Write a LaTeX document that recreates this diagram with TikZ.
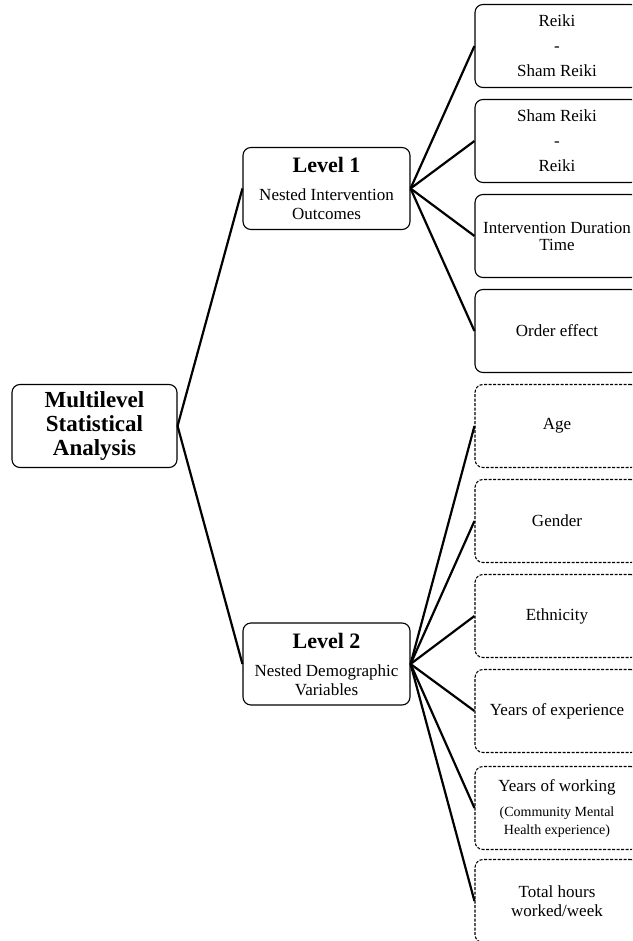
\documentclass[tikz,border=0pt]{standalone}
\usepackage{fontspec}
\setmainfont{Liberation Serif}
\usepackage{tikz}

\tikzset{
  box/.style={draw, rounded corners=8pt, line width=1.1pt, inner sep=0pt,
    align=center, font=\fontsize{17}{19}\selectfont},
  rootbox/.style={box, minimum width=165pt, minimum height=83pt,
    font=\bfseries\fontsize{23}{24}\selectfont},
  levelbox/.style={box, minimum width=167pt, minimum height=82pt},
  itembox/.style={box, minimum width=164pt, minimum height=83pt},
  varbox/.style={itembox, dash pattern=on 3pt off 1.5pt},
  branch/.style={line width=2.2pt}
}
\newcommand{\levelhead}[1]{{\bfseries\fontsize{22}{24}\selectfont #1}}

\begin{document}
\begin{tikzpicture}[x=1pt, y=-1pt]

\clip (0,0) rectangle (632,941);

% root box
\node[rootbox] (root) at (94.5,426) {Multilevel\\Statistical\\Analysis};

% level boxes
\node[levelbox] (lev1) at (326.5,188.5)
  {\levelhead{Level 1}\\[9pt]Nested Intervention\\Outcomes};
\node[levelbox] (lev2) at (326.5,664)
  {\levelhead{Level 2}\\[9pt]Nested Demographic\\Variables};

% level 1 outcomes
\node[itembox] (reiki) at (557,46) {Reiki\\[6pt]-\\[6pt]Sham Reiki};
\node[itembox] (sham) at (557,141) {Sham Reiki\\[6pt]-\\[6pt]Reiki};
\node[itembox] (dur) at (557,236) {Intervention Duration\\[-2pt]Time};
\node[itembox] (order) at (557,331) {Order effect};

% level 2 variables
\node[varbox] (age) at (557,426) {Age};
\node[varbox] (gender) at (557,521) {Gender};
\node[varbox] (ethn) at (557,616) {Ethnicity};
\node[varbox] (exper) at (557,711) {Years of experience};
\node[varbox] (work) at (557,808)
  {Years of working\\[6pt]{\fontsize{14}{16}\selectfont (Community Mental}\\[-1pt]
   {\fontsize{14}{16}\selectfont Health experience)}};
\node[varbox] (hours) at (557,901) {Total hours\\worked/week};

% branches
\draw[branch] (root.east) -- (lev1.west);
\draw[branch] (root.east) -- (lev2.west);
\foreach \n in {reiki, sham, dur, order}
  \draw[branch] (lev1.east) -- (\n.west);
\foreach \n in {age, gender, ethn, exper, work, hours}
  \draw[branch] (lev2.east) -- (\n.west);

\end{tikzpicture}
\end{document}
